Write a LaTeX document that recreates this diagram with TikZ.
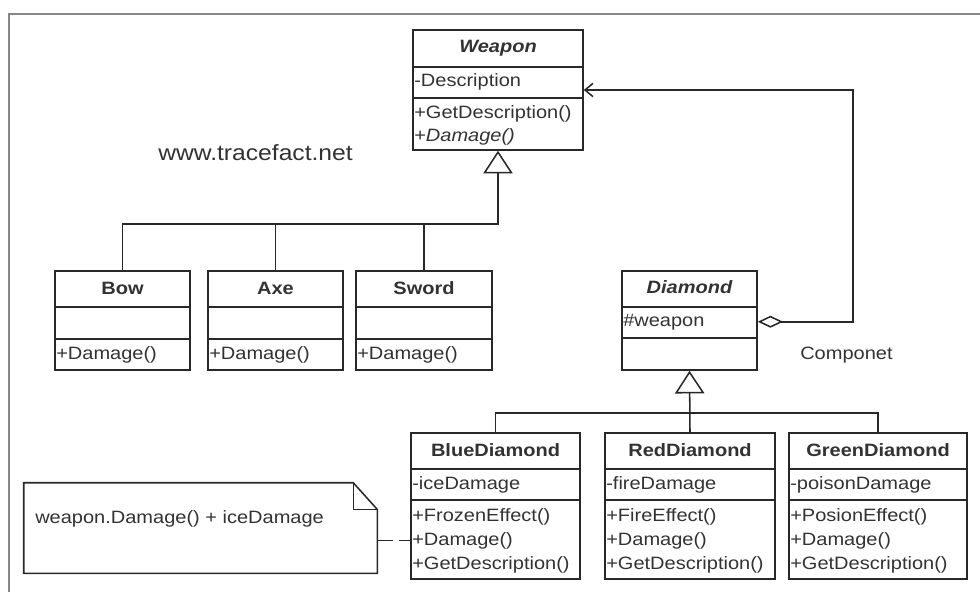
\documentclass[tikz,border=0pt]{standalone}
\usepackage{fontspec}
\setmainfont[FakeStretch=1.12]{Liberation Sans}
\usetikzlibrary{arrows.meta,fit}
\definecolor{Color1}{RGB}{40,40,40}
\definecolor{Color2}{RGB}{50,50,50}
\definecolor{Color3}{RGB}{135,135,135}
\tikzset{
	box/.style={draw=Color1,line width=1.15pt,inner sep=0pt},
	row/.style={anchor=base west,inner sep=0pt,text=Color2,font=\fontsize{13.4}{16}\selectfont},
	title/.style={anchor=base,inner sep=0pt,text=Color2,font=\fontsize{13.4}{16}\selectfont\bfseries},
	titleit/.style={title,font=\fontsize{13.4}{16}\selectfont\bfseries\itshape},
	link/.style={draw=Color1,line width=1.15pt},
	inherit/.style={link,-{Triangle[open,length=17pt,width=22pt]}},
}

\begin{document}
\begin{tikzpicture}[x=0.75pt,y=-0.75pt]
		\useasboundingbox (0,0) rectangle (980,592);

		% frame
		\draw[Color3,line width=1.3pt] (980,14) -- (9,14) -- (9,592);

		% Weapon class
		\node[box,fit={(413,30) (583,150)}] (weapon) {};
		\draw[link] (413,67) -- (583,67);
		\draw[link] (413,98) -- (583,98);
		\node[titleit] (weaponname) at (498,53) {Weapon};
		\node[row] (weapondesc) at (414,86) {-Description};
		\node[row] (weapongetdesc) at (414,118) {+GetDescription()};
		\node[row] (weapondmg) at (414,141) {+\textit{Damage()}};

		% watermark
		\node[row,font=\fontsize{16.5}{19}\selectfont] (site) at (158,160) {www.tracefact.net};

		% Bow class
		\node[box,fit={(55,271) (190,370)}] (bow) {};
		\draw[link] (55,307) -- (190,307);
		\draw[link] (55,339) -- (190,339);
		\node[title] (bowname) at (122.5,294) {Bow};
		\node[row] (bowdmg) at (56,359) {+Damage()};

		% Axe class
		\node[box,fit={(208,271) (343,370)}] (axe) {};
		\draw[link] (208,307) -- (343,307);
		\draw[link] (208,339) -- (343,339);
		\node[title] (axename) at (275.5,294) {Axe};
		\node[row] (axedmg) at (209,359) {+Damage()};

		% Sword class
		\node[box,fit={(356,271) (492,370)}] (sword) {};
		\draw[link] (356,307) -- (492,307);
		\draw[link] (356,339) -- (492,339);
		\node[title] (swordname) at (424,294) {Sword};
		\node[row] (sworddmg) at (357,359) {+Damage()};

		% weapons inherit from Weapon
		\coordinate (wjoin) at (498,224);
		\draw[inherit] (bow.north) |- (wjoin) -- (weapon.south);
		\draw[link] (axe.north) -- (axe.north |- wjoin);
		\draw[link] (sword.north) -- (sword.north |- wjoin);

		% Diamond class
		\node[box,fit={(622,271) (757,370)}] (diamond) {};
		\draw[link] (622,307) -- (757,307);
		\draw[link] (622,338) -- (757,338);
		\node[titleit] (diamondname) at (689.5,293) {Diamond};
		\node[row] (diamondweapon) at (623,326) {\#weapon};

		% Diamond holds a Weapon
		\coordinate (bend) at (853,90);
		\draw[link,{Diamond[open,length=19pt,width=9pt]}-{Straight Barb[length=6pt,width=10pt]}]
			(diamond.east |- diamondweapon) -| (bend) -- (weapon.east |- bend);
		\node[row] (componet) at (800,359) {Componet};

		% BlueDiamond class
		\node[box,fit={(411,433) (580,579)}] (blue) {};
		\draw[link] (411,469) -- (580,469);
		\draw[link] (411,500) -- (580,500);
		\node[title] (bluename) at (495.5,456) {BlueDiamond};
		\node[row] (blueice) at (412,489) {-iceDamage};
		\node[row] (bluefrozen) at (412,521) {+FrozenEffect()};
		\node[row] (bluedmg) at (412,545) {+Damage()};
		\node[row] (bluedesc) at (412,569) {+GetDescription()};

		% RedDiamond class
		\node[box,fit={(605,433) (775,579)}] (red) {};
		\draw[link] (605,469) -- (775,469);
		\draw[link] (605,500) -- (775,500);
		\node[title] (redname) at (690,456) {RedDiamond};
		\node[row] (redfire) at (606,489) {-fireDamage};
		\node[row] (redeffect) at (606,521) {+FireEffect()};
		\node[row] (reddmg) at (606,545) {+Damage()};
		\node[row] (reddesc) at (606,569) {+GetDescription()};

		% GreenDiamond class
		\node[box,fit={(789,433) (967,579)}] (green) {};
		\draw[link] (789,469) -- (967,469);
		\draw[link] (789,500) -- (967,500);
		\node[title] (greenname) at (878,456) {GreenDiamond};
		\node[row] (greenpoison) at (790,489) {-poisonDamage};
		\node[row] (greeneffect) at (790,521) {+PosionEffect()};
		\node[row] (greendmg) at (790,545) {+Damage()};
		\node[row] (greendesc) at (790,569) {+GetDescription()};

		% diamonds inherit from Diamond
		\coordinate (djoin) at (690,413);
		\draw[link] (blue.north) |- (djoin) -| (green.north);
		\draw[inherit] (red.north) -- (diamond.south);

		% note
		\node[inner sep=0pt,fit={(24,483) (377,573)}] (note) {};
		\draw[link] (note.north west) -- ([xshift=-18pt]note.north east) -- ([yshift=-20pt]note.north east)
			-- (note.south east) -- (note.south west) -- cycle;
		\draw[link] ([xshift=-18pt]note.north east) -- ([xshift=-18pt,yshift=-20pt]note.north east)
			-- ([yshift=-20pt]note.north east);
		\node[row] (notetext) at (35,523) {weapon.Damage() + iceDamage};
		\draw[link,dash pattern=on 11.5pt off 5pt] (note.east |- bluedmg) -- (blue.west |- bluedmg);

	\end{tikzpicture}
\end{document}
